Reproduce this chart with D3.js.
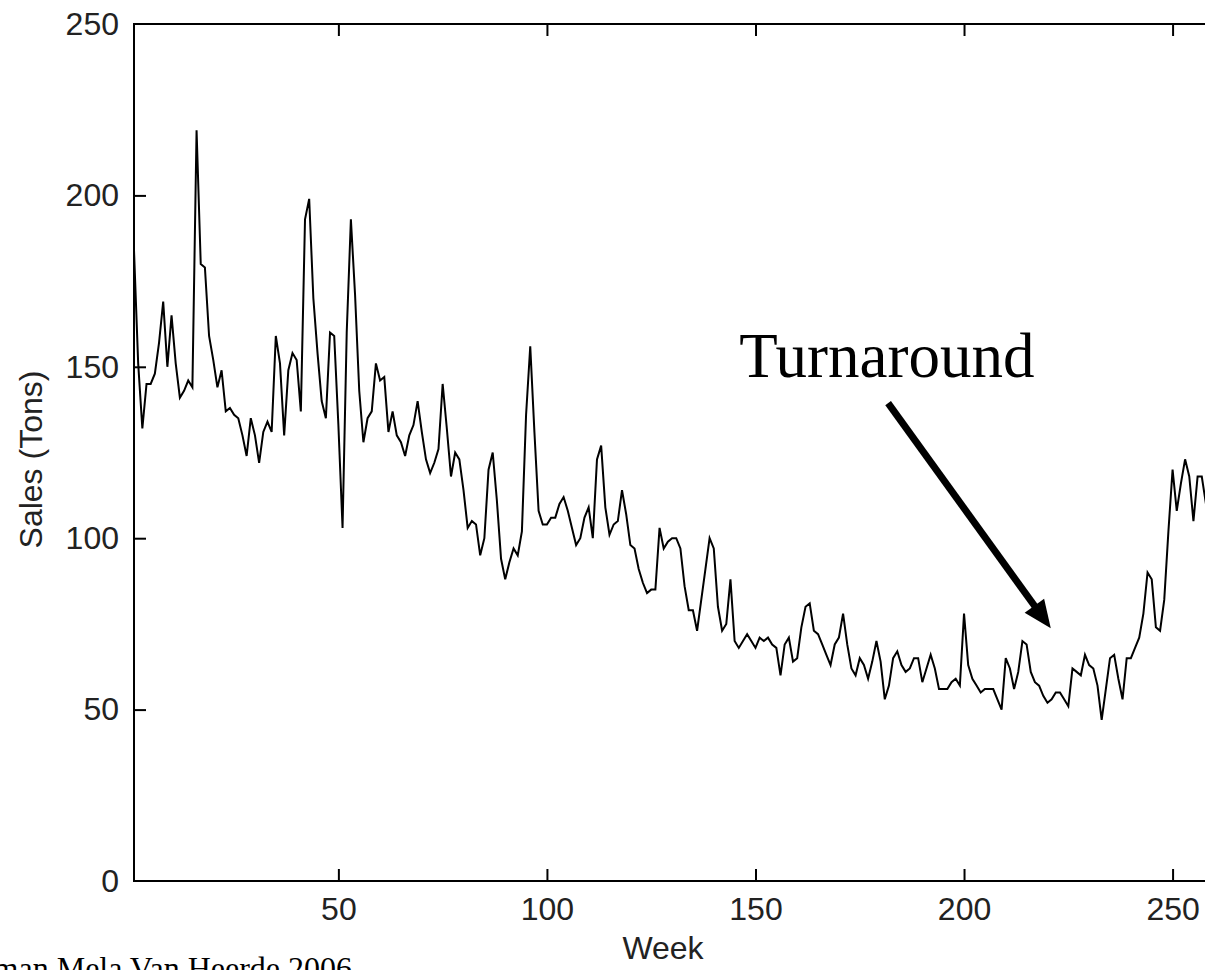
<!DOCTYPE html>
<html>
<head>
<meta charset="utf-8">
<script src="https://cdn.jsdelivr.net/npm/d3@7"></script>
<style>
  html, body { margin: 0; padding: 0; background: #fff; overflow: hidden; }
  svg { display: block; }
</style>
</head>
<body>
<svg id="chart" width="1205" height="970"></svg>
<script>
// weekly sales, weeks 1..259
const weeks = d3.range(1, 260);
const sales = [
  184, 151, 132, 145, 145, 148, 157, 169, 150, 165,
  151, 141, 143, 146, 144, 219, 180, 179, 159, 152,
  144, 149, 137, 138, 136, 135, 130, 124, 135, 130,
  122, 131, 134, 131, 159, 151, 130, 149, 154, 152,
  137, 193, 199, 170, 154, 140, 135, 160, 159, 133,
  103, 160, 193, 171, 143, 128, 135, 137, 151, 146,
  147, 131, 137, 130, 128, 124, 130, 133, 140, 131,
  123, 119, 122, 126, 145, 132, 118, 125, 123, 114,
  103, 105, 104, 95, 100, 120, 125, 111, 94, 88,
  93, 97, 95, 102, 136, 156, 131, 108, 104, 104,
  106, 106, 110, 112, 108, 103, 98, 100, 106, 109,
  100, 123, 127, 109, 101, 104, 105, 114, 107, 98,
  97, 91, 87, 84, 85, 85, 103, 97, 99, 100,
  100, 97, 86, 79, 79, 73, 82, 91, 100, 97,
  80, 73, 75, 88, 70, 68, 70, 72, 70, 68,
  71, 70, 71, 69, 68, 60, 69, 71, 64, 65,
  74, 80, 81, 73, 72, 69, 66, 63, 69, 71,
  78, 69, 62, 60, 65, 63, 59, 64, 70, 64,
  53, 57, 65, 67, 63, 61, 62, 65, 65, 58,
  62, 66, 62, 56, 56, 56, 58, 59, 57, 78,
  63, 59, 57, 55, 56, 56, 56, 53, 50, 65,
  62, 56, 61, 70, 69, 61, 58, 57, 54, 52,
  53, 55, 55, 53, 51, 62, 61, 60, 66, 63,
  62, 57, 47, 56, 65, 66, 59, 53, 65, 65,
  68, 71, 78, 90, 88, 74, 73, 82, 102, 120,
  108, 116, 123, 118, 105, 118, 118, 110, 112
];
const xTicks = [50, 100, 150, 200, 250];
const yTicks = [0, 50, 100, 150, 200, 250];

// annotation in data units: label anchor, arrow start, arrow tip
const noteLabel = { week: 146.1, value: 147.1, text: 'Turnaround' };
const noteArrow = { from: [181.8, 139.4], to: [220.8, 73.7] };
const source = 'Ataman Mela Van Heerde 2006';

const svg = d3.select('#chart');
const margin = { left: 134, top: 24, bottom: 881 };
const x = d3.scaleLinear().domain([1, 260]).range([margin.left, margin.left + 259 * 4.171]);
const y = d3.scaleLinear().domain([0, 250]).range([margin.bottom, margin.top]);

const tickFont = '"Liberation Sans", Arial, sans-serif';

svg.append('rect').attr('width', 1205).attr('height', 970).attr('fill', '#fff');

// box
svg.append('rect')
  .attr('x', x(1)).attr('y', y(250))
  .attr('width', x(260) - x(1)).attr('height', y(0) - y(250))
  .attr('fill', 'none').attr('stroke', '#000').attr('stroke-width', 2);

const styleAxis = g => {
  g.select('.domain').remove();
  g.selectAll('.tick line').attr('stroke', '#000').attr('stroke-width', 2);
  g.selectAll('.tick text')
    .attr('fill', '#222')
    .style('font-family', tickFont)
    .style('font-size', '32px');
};

svg.append('g')
  .attr('transform', `translate(0,${y(0)})`)
  .call(d3.axisBottom(x).tickValues(xTicks).tickSizeInner(-12).tickSizeOuter(0).tickPadding(16))
  .call(styleAxis);

svg.append('g')
  .attr('transform', `translate(0,${y(250)})`)
  .call(d3.axisTop(x).tickValues(xTicks).tickSizeInner(-12).tickSizeOuter(0).tickFormat(''))
  .call(styleAxis);

svg.append('g')
  .attr('transform', `translate(${x(1)},0)`)
  .call(d3.axisLeft(y).tickValues(yTicks).tickSizeInner(-12).tickSizeOuter(0).tickPadding(15))
  .call(styleAxis)
  .call(g => g.selectAll('.tick').filter(d => d === 0 || d === 250).select('line').remove());

// series
const line = d3.line().x((d, i) => x(weeks[i])).y(d => y(d));
svg.append('path')
  .datum(sales)
  .attr('d', line)
  .attr('fill', 'none')
  .attr('stroke', '#000')
  .attr('stroke-width', 2)
  .attr('stroke-linejoin', 'miter');

// axis labels
svg.append('text')
  .attr('x', 663).attr('y', 959)
  .attr('text-anchor', 'middle')
  .style('font-family', tickFont).style('font-size', '32px').attr('fill', '#222')
  .text('Week');

svg.append('text')
  .attr('transform', `translate(42,${(y(0) + y(250)) / 2 + 7}) rotate(-90)`)
  .attr('text-anchor', 'middle')
  .style('font-family', tickFont).style('font-size', '32px').attr('fill', '#222')
  .text('Sales (Tons)');

// annotation
svg.append('text')
  .attr('x', x(noteLabel.week)).attr('y', y(noteLabel.value))
  .style('font-family', '"Liberation Serif", "Times New Roman", serif')
  .style('font-size', '63px')
  .attr('fill', '#000')
  .text(noteLabel.text);

const [x1, y1] = [x(noteArrow.from[0]), y(noteArrow.from[1])];
const [x2, y2] = [x(noteArrow.to[0]), y(noteArrow.to[1])];
const len = Math.hypot(x2 - x1, y2 - y1);
const ux = (x2 - x1) / len, uy = (y2 - y1) / len;
const headLen = 28, headHalf = 12;
const bx = x2 - ux * headLen, by = y2 - uy * headLen;
svg.append('line')
  .attr('x1', x1).attr('y1', y1).attr('x2', bx + ux * 2).attr('y2', by + uy * 2)
  .attr('stroke', '#000').attr('stroke-width', 7);
svg.append('path')
  .attr('d', `M${x2},${y2}L${bx - uy * headHalf},${by + ux * headHalf}L${bx + uy * headHalf},${by - ux * headHalf}Z`)
  .attr('fill', '#000');

// source note, partly off the page as in the original slide
svg.append('text')
  .attr('x', 352).attr('y', 979)
  .attr('text-anchor', 'end')
  .style('font-family', '"Liberation Serif", "Times New Roman", serif')
  .style('font-size', '32px')
  .attr('fill', '#000')
  .text(source);
</script>
</body>
</html>
